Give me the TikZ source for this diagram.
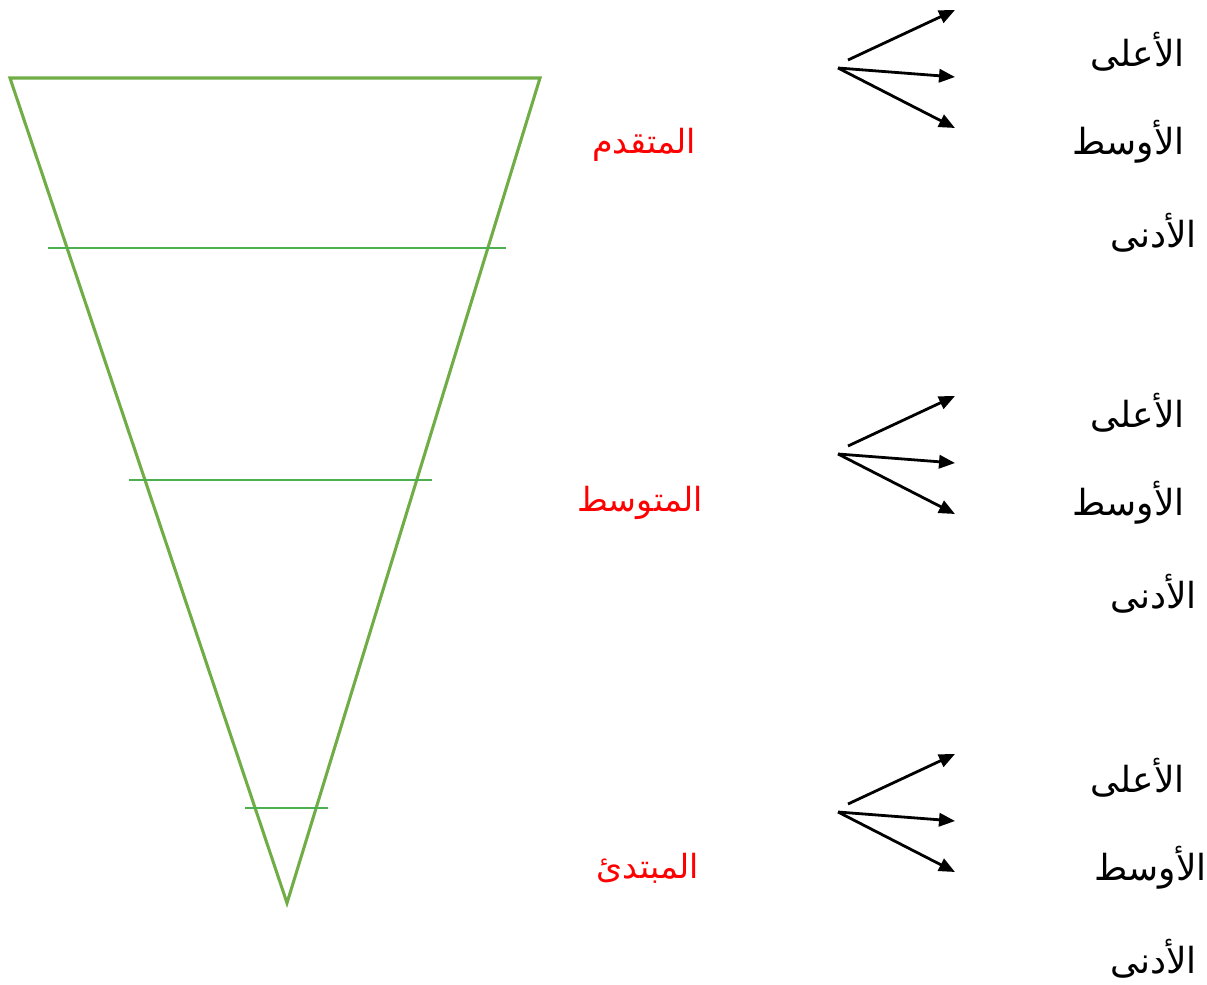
\documentclass[tikz,border=0pt]{standalone}
\usepackage{fontspec}
\newfontfamily\arabicfont[Script=Arabic]{DejaVu Sans}
\TeXXeTstate=1
\usetikzlibrary{arrows.meta,positioning}
\definecolor{cone}{HTML}{70AD47}
\definecolor{band}{HTML}{4CAF50}

\begin{document}
\begin{tikzpicture}[
        x=0.0264cm, y=-0.0264cm,
        level/.style={text=red, font=\arabicfont\fontsize{25}{30}\selectfont, inner sep=0pt},
        grade/.style={text=black, font=\arabicfont\fontsize{27}{32}\selectfont, inner sep=0pt, anchor=east},
        pointer/.style={-{Triangle[length=12pt,width=10pt]}, line width=2.1pt, black}
    ]
        \useasboundingbox (0,0) rectangle (1207,985);

        % cone
        \coordinate (tl) at (10,78);
        \coordinate (tr) at (540,78);
        \coordinate (tip) at (287,903);
        \draw[cone, line width=2.3pt] (tl) -- (tr) -- (tip) -- cycle;
        \draw[band, line width=2.2pt] (48,248) -- (506,248);
        \draw[band, line width=2.2pt] (129,480) -- (432,480);
        \draw[band, line width=2.2pt] (245,808) -- (328,808);

        % levels
        \node[level] (adv) at (644,145) {\beginR المتقدم\endR};
        \node[level] (mid) at (640,503) {\beginR المتوسط\endR};
        \node[level] (beg) at (648,868) {\beginR المبتدئ\endR};

        % arrows and grades
        \foreach \g/\y/\t/\r in {a/0/0/1185, b/386/361/1185, c/744/726/1207} {
            \coordinate (\g s1) at (848,60+\y);
            \coordinate (\g s2) at (838,68+\y);
            \coordinate (\g e1) at (955,10+\y);
            \coordinate (\g e2) at (955,77+\y);
            \coordinate (\g e3) at (955,128+\y);
            \draw[pointer] (\g s1) -- (\g e1);
            \draw[pointer] (\g s2) -- (\g e2);
            \draw[pointer] (\g s2) -- (\g e3);
            \node[grade] (\g hi) at (1185,52+\t) {\beginR الأعلى\endR};
            \node[grade] (\g md) at (\r,142+\t) {\beginR الأوسط\endR};
            \node[grade] (\g lo) at (1197,233+\t) {\beginR الأدنى\endR};
        }
    \end{tikzpicture}
\end{document}
